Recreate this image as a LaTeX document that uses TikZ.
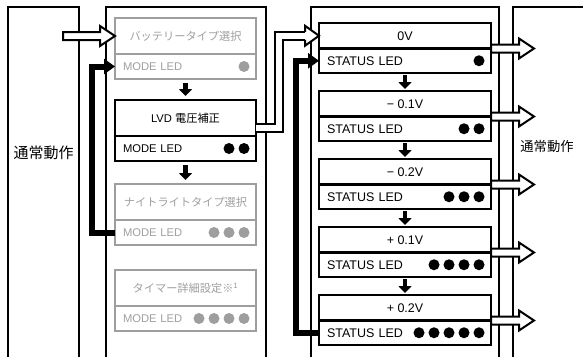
\documentclass[tikz,border=0pt]{standalone}
\usepackage{fontspec}
\setmainfont{Liberation Sans}
\newfontfamily\jp{Noto Sans CJK JP}
\usetikzlibrary{positioning,calc,arrows.meta}
\definecolor{dimgray}{gray}{0.62}
\newcommand{\modefont}{\fontsize{11.2}{13}\selectfont}
\newcommand{\statfont}{\fontsize{12.5}{15}\selectfont}
\newcommand{\leddots}[3]{\foreach \k in {1,...,#2} \fill[#3] ($(#1.east)+({-12-15*(\k-1)},0)$) circle[radius=5.5pt];}
\newcommand{\wharrow}[2]{\filldraw[whitehead] ($(#1)+(0,-4)$) -- ($(#2)+(-15,-4)$) -- ($(#2)+(-15,-10)$) -- (#2) -- ($(#2)+(-15,10)$) -- ($(#2)+(-15,4)$) -- ($(#1)+(0,4)$) -- cycle;}
\tikzset{
  colline/.style={line width=2.4pt},
  boxbase/.style={rectangle, line width=2.5pt, inner sep=0pt, outer sep=0pt},
  modetitle/.style={boxbase, draw=dimgray, text=dimgray, minimum width=141pt, minimum height=36pt, font=\modefont},
  modeled/.style={boxbase, draw=dimgray, text=dimgray, minimum height=25pt, text width=125pt, inner xsep=8pt, align=left, font=\modefont},
  modetitleon/.style={modetitle, draw=black, text=black},
  modeledon/.style={modeled, draw=black, text=black},
  stattitle/.style={boxbase, draw, minimum width=172pt, minimum height=25.5pt, font=\statfont},
  statled/.style={boxbase, draw, minimum height=24.5pt, text width=156pt, inner xsep=8pt, align=left, font=\statfont},
  nextarrow/.style={line width=4.5pt, -{Triangle[width=13pt,length=7pt]}},
  backarrow/.style={line width=6pt, line join=miter, -{Triangle[width=15pt,length=11pt]}},
  whiteline/.style={double=white, double distance=6pt, line width=2pt, line join=miter},
  whitehead/.style={fill=white, line width=2pt, line join=miter},
}
\begin{document}
\begin{tikzpicture}[x=1pt,y=-1pt]
\useasboundingbox (0,0) rectangle (583,356);
\clip (0,0) rectangle (583,356);
\draw[colline] (8,7) rectangle (79,365);
\draw[colline] (106,7) rectangle (266,365);
\draw[colline] (311,7) rectangle (499,365);
\draw[colline] (513,7) rectangle (590,365);
\node[font=\jp\fontsize{15}{18}\selectfont] (norm1) at (43.5,153) {通常動作};
\node[font=\jp\fontsize{13.3}{16}\selectfont] (norm2) at (547,146) {通常動作};

\node[modetitle] (bat) at (185.5,36) {\jp バッテリータイプ選択};
\node[modeled, below=0pt of bat] (batled) {MODE LED};
\node[modetitleon, below=21pt of batled] (lvd) {LVD {\jp 電圧補正}};
\node[modeledon, below=0pt of lvd] (lvdled) {MODE LED};
\node[modetitle, below=23pt of lvdled] (night) {\jp ナイトライトタイプ選択};
\node[modeled, below=0pt of night] (nightled) {MODE LED};
\node[modetitle, below=25pt of nightled] (timer) {{\jp タイマー詳細設定※}\textsuperscript{1}};
\node[modeled, below=0pt of timer] (timerled) {MODE LED};
\leddots{batled}{1}{dimgray}
\leddots{lvdled}{2}{black}
\leddots{nightled}{3}{dimgray}
\leddots{timerled}{4}{dimgray}

\node[stattitle] (s0) at (405,35.75) {0V};
\node[statled, below=0pt of s0] (s0led) {STATUS LED};
\node[stattitle, below=18pt of s0led] (s1) {− 0.1V};
\node[statled, below=0pt of s1] (s1led) {STATUS LED};
\node[stattitle, below=18pt of s1led] (s2) {− 0.2V};
\node[statled, below=0pt of s2] (s2led) {STATUS LED};
\node[stattitle, below=18pt of s2led] (s3) {+ 0.1V};
\node[statled, below=0pt of s3] (s3led) {STATUS LED};
\node[stattitle, below=18pt of s3led] (s4) {+ 0.2V};
\node[statled, below=0pt of s4] (s4led) {STATUS LED};
\leddots{s0led}{1}{black}
\leddots{s1led}{2}{black}
\leddots{s2led}{3}{black}
\leddots{s3led}{4}{black}
\leddots{s4led}{5}{black}

\draw[nextarrow, shorten <=4pt, shorten >=4pt] (batled.south) -- (lvd.north);
\draw[nextarrow, shorten <=4pt, shorten >=4pt] (lvdled.south) -- (night.north);
\draw[nextarrow, shorten <=2pt, shorten >=2pt] (s0led.south) -- (s1.north);
\draw[nextarrow, shorten <=2pt, shorten >=2pt] (s1led.south) -- (s2.north);
\draw[nextarrow, shorten <=2pt, shorten >=2pt] (s2led.south) -- (s3.north);
\draw[nextarrow, shorten <=2pt, shorten >=2pt] (s3led.south) -- (s4.north);

\draw[backarrow] (nightled.west) -- ++(-23.5,0) |- (batled.west);
\draw[backarrow] (s4led.west) -- ++(-23.5,0) |- (s0led.west);

\coordinate (in) at (63,36);
\wharrow{in}{bat.west}
\draw[whiteline] ($(lvd.east)+(0,10)$) -- ++(23,0) |- ($(s0.west)+(-14,0)$);
\filldraw[whitehead] ($(s0.west)+(-14,-4)$) -- ++(0,-6) -- (s0.west) -- ($(s0.west)+(-14,10)$) -- ++(0,-6);
\coordinate (o0) at ($(s0.south east)+(43,0)$);
\coordinate (o1) at ($(s1.south east)+(43,0)$);
\coordinate (o2) at ($(s2.south east)+(43,0)$);
\coordinate (o3) at ($(s3.south east)+(43,0)$);
\coordinate (o4) at ($(s4.south east)+(43,0)$);
\wharrow{s0.south east}{o0}
\wharrow{s1.south east}{o1}
\wharrow{s2.south east}{o2}
\wharrow{s3.south east}{o3}
\wharrow{s4.south east}{o4}
\end{tikzpicture}
\end{document}
